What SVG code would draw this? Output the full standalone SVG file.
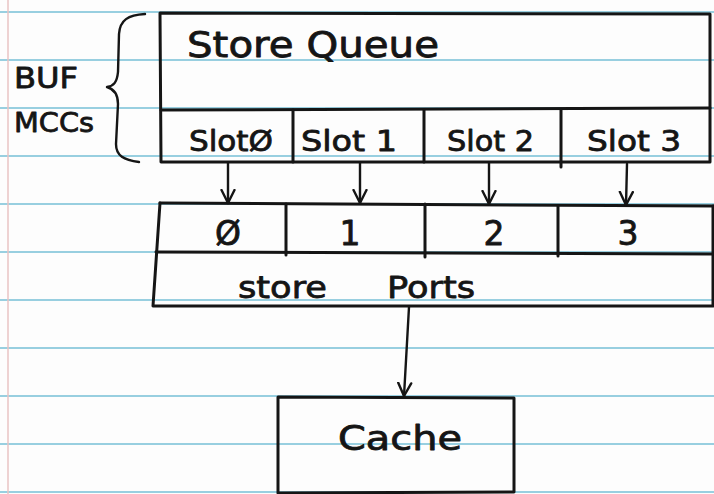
<svg xmlns="http://www.w3.org/2000/svg" width="714" height="494" viewBox="0 0 714 494">
  <style>
    .rule { stroke: #98cfe0; stroke-width: 2; }
    .margin { stroke: #e9c3c3; stroke-width: 1.5; }
    .ink { fill: none; stroke: #151515; stroke-width: 3; stroke-linecap: round; stroke-linejoin: round; }
    .thin { fill: none; stroke: #151515; stroke-width: 2.4; stroke-linecap: round; stroke-linejoin: round; }
    text { font-family: "DejaVu Sans", "Liberation Sans", sans-serif; fill: #151515; stroke: #151515; stroke-width: 0.8; stroke-linejoin: round; }
  </style>
  <defs>
    <marker id="head" viewBox="-14 -8 16 16" refX="0" refY="0" markerWidth="16" markerHeight="16" markerUnits="userSpaceOnUse" orient="auto">
      <path d="M-13,-6.5 L0,0 L-13,6.5" fill="none" stroke="#151515" stroke-width="2.4" stroke-linecap="round" stroke-linejoin="round"/>
    </marker>
  </defs>

  <!-- lined paper -->
  <rect width="714" height="494" fill="#fdfdfd"/>
  <g id="paper">
    <line class="rule" x1="0" y1="12" x2="714" y2="12"/>
    <line class="rule" x1="0" y1="60" x2="714" y2="60"/>
    <line class="rule" x1="0" y1="108" x2="714" y2="108"/>
    <line class="rule" x1="0" y1="156" x2="714" y2="156"/>
    <line class="rule" x1="0" y1="204" x2="714" y2="204"/>
    <line class="rule" x1="0" y1="252" x2="714" y2="252"/>
    <line class="rule" x1="0" y1="300" x2="714" y2="300"/>
    <line class="rule" x1="0" y1="348" x2="714" y2="348"/>
    <line class="rule" x1="0" y1="396" x2="714" y2="396"/>
    <line class="rule" x1="0" y1="444" x2="714" y2="444"/>
    <line class="rule" x1="0" y1="492" x2="714" y2="492"/>
    <line class="margin" x1="8" y1="0" x2="8" y2="494"/>
  </g>

  <!-- BUF / MCCs bracket label -->
  <g id="buf-mccs">
    <text x="14" y="88" font-size="28" textLength="64" lengthAdjust="spacingAndGlyphs">BUF</text>
    <text x="14" y="132" font-size="27" textLength="80" lengthAdjust="spacingAndGlyphs">MCCs</text>
    <path class="thin" d="M145,14 C128,15 120,20 119,34 L118,72 C117,82 114,86 107,87 C114,89 118,94 118,104 L116,144 C116,156 124,160 139,162"/>
  </g>

  <!-- store queue with its four slots -->
  <g id="store-queue">
    <path class="ink" d="M160,13 L710,14 L710,162 L161,162 Z"/>
    <path class="ink" d="M161,110 L710,108"/>
    <path class="ink" d="M293,110 L293,162"/>
    <path class="ink" d="M424,110 L424,162"/>
    <path class="ink" d="M561,110 L561,167"/>
    <text x="187" y="57" font-size="35" textLength="252" lengthAdjust="spacingAndGlyphs">Store Queue</text>
    <text x="189" y="151" font-size="28" textLength="84" lengthAdjust="spacingAndGlyphs">SlotØ</text>
    <text x="301" y="151" font-size="28" textLength="96" lengthAdjust="spacingAndGlyphs">Slot 1</text>
    <text x="447" y="151" font-size="28" textLength="87" lengthAdjust="spacingAndGlyphs">Slot 2</text>
    <text x="587" y="151" font-size="28" textLength="94" lengthAdjust="spacingAndGlyphs">Slot 3</text>
  </g>

  <!-- store ports with port numbers -->
  <g id="store-ports">
    <path class="ink" d="M160,203 L714,206"/>
    <path class="ink" d="M160,203 L153,306 L713,306 L713,206"/>
    <path class="ink" d="M156,252 L713,254"/>
    <path class="ink" d="M286,204 L286,255"/>
    <path class="ink" d="M425,204 L425,257"/>
    <path class="ink" d="M558,206 L558,256"/>
    <text x="228" y="245" font-size="33" text-anchor="middle">Ø</text>
    <text x="350" y="245" font-size="33" text-anchor="middle">1</text>
    <text x="494" y="245" font-size="33" text-anchor="middle">2</text>
    <text x="628" y="245" font-size="33" text-anchor="middle">3</text>
    <text x="238" y="298" font-size="31" textLength="89" lengthAdjust="spacingAndGlyphs">store</text>
    <text x="387" y="298" font-size="31" textLength="88" lengthAdjust="spacingAndGlyphs">Ports</text>
  </g>

  <!-- cache -->
  <g id="cache">
    <path class="ink" d="M278,397 L514,398 L514,492 L278,493 Z"/>
    <text x="338" y="450" font-size="33" textLength="124" lengthAdjust="spacingAndGlyphs">Cache</text>
  </g>

  <!-- connectors -->
  <g id="connectors">
    <path class="thin" d="M228,163 L228,203" marker-end="url(#head)"/>
    <path class="thin" d="M360,163 L360,203" marker-end="url(#head)"/>
    <path class="thin" d="M489,163 L489,204" marker-end="url(#head)"/>
    <path class="thin" d="M627,164 L626,205" marker-end="url(#head)"/>
    <path class="thin" d="M409,307 L404,396" marker-end="url(#head)"/>
  </g>
</svg>
